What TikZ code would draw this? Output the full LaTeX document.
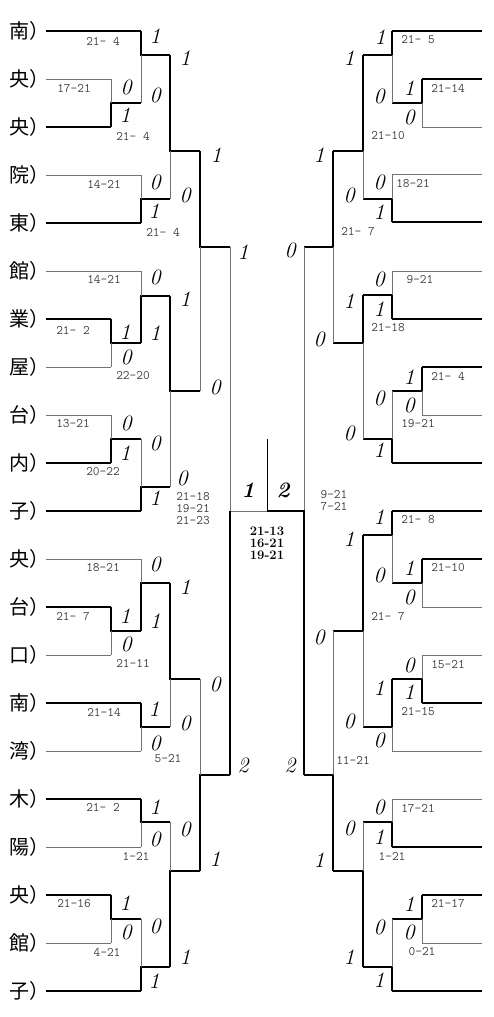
\documentclass[tikz,border=0pt]{standalone}
\usepackage{fontspec}
\newfontfamily\cjk{Noto Sans CJK JP}

\begin{document}
\begin{tikzpicture}[x=1pt, y=-1pt,
  win/.style={line width=1.6pt, black},
  lose/.style={line width=0.9pt, black!55},
  team/.style={font=\cjk\fontsize{20}{20}\selectfont, anchor=west, inner sep=0pt},
  gm/.style={font=\fontsize{22}{22}\selectfont\itshape, inner sep=0pt},
  sc/.style={font=\ttfamily\fontsize{13}{12}\selectfont, text=black!75, inner sep=0pt, align=center},
  fin/.style={font=\fontsize{13}{12}\selectfont\bfseries, inner sep=0pt, align=center}]

  \useasboundingbox (0,0) rectangle (493,1017);

  % teams on the left
  \foreach \y/\t [count=\i] in {31/南,79/央,127/央,175/院,223/東,271/館,319/業,367/屋,415/台,463/内,511/子,
      559/央,607/台,655/口,703/南,751/湾,799/木,847/陽,895/央,943/館,991/子}
    \node[team] (t\i) at (9,\y) {\t）};

  % first lines, left
  \foreach \y/\xe in {31/141,127/111,223/141,319/111,463/111,511/141,607/111,703/141,799/141,895/111,991/141}
    \draw[win] (46,\y) -- (\xe,\y);
  \foreach \y/\xe in {79/111,175/141,271/141,367/111,415/111,559/141,655/111,751/141,847/141,943/111}
    \draw[lose] (46,\y) -- (\xe,\y);

  % first lines, right
  \foreach \y/\xs in {31/392,79/422,222/392,319/392,367/422,463/392,511/392,559/422,703/422,847/392,895/422,991/392}
    \draw[win] (\xs,\y) -- (482,\y);
  \foreach \y/\xs in {127/422,174/392,271/392,415/422,607/422,655/422,751/392,799/392,943/422}
    \draw[lose] (\xs,\y) -- (482,\y);

  % matches: x / top / bottom / out / next x / winner
  \foreach \x/\a/\b/\m/\n/\w in {
      111/79/127/103/141/2, 141/31/103/55/170/1, 141/175/223/199/170/2, 170/55/199/151/200/1,
      111/319/367/343/141/1, 141/271/343/296/170/2, 111/415/463/439/141/2, 141/439/511/487/170/2,
      170/296/487/391/200/1, 200/151/391/247/230/1,
      111/607/655/631/141/1, 141/559/631/583/170/2, 141/703/751/727/170/1, 170/583/727/679/200/1,
      141/799/847/822/170/1, 111/895/943/919/141/1, 141/919/991/967/170/2, 170/822/967/871/200/2,
      200/679/871/775/230/2,
      422/79/127/103/392/1, 392/31/103/55/363/1, 392/174/222/199/363/2, 363/55/199/151/333/1,
      392/271/319/295/363/2, 422/367/415/391/392/1, 392/391/463/439/363/2, 363/295/439/343/333/1,
      333/151/343/247/304/1,
      422/559/607/583/392/1, 392/511/583/535/363/1, 422/655/703/679/392/2, 392/679/751/727/363/1,
      363/535/727/631/333/1, 392/799/847/822/363/2, 422/895/943/919/392/1, 392/919/991/967/363/2,
      363/822/967/871/333/2, 333/631/871/775/304/2} {
    \ifnum\w=1
      \draw[win] (\x,\a) -- (\x,\m) -- (\n,\m);
      \draw[lose] (\x,\m) -- (\x,\b);
    \else
      \draw[win] (\x,\b) -- (\x,\m) -- (\n,\m);
      \draw[lose] (\x,\m) -- (\x,\a);
    \fi
  }

  % final
  \coordinate (fl) at (230,511);
  \coordinate (fm) at (267,511);
  \coordinate (fr) at (304,511);
  \coordinate (ft) at (267,439);
  \draw[lose] (230,247) -- (fl) -- (fm);
  \draw[win] (230,775) -- (fl);
  \draw[lose] (304,247) -- (fr);
  \draw[win] (304,775) -- (fr) -- (fm);
  \draw[line width=1pt] (fm) -- (ft);
  \node[font=\fontsize{22}{22}\selectfont\bfseries\itshape] (cl) at (248,490) {1};
  \node[font=\fontsize{22}{22}\selectfont\bfseries\itshape] (cr) at (283,490) {2};
  \node[fin] (cs) at (267,543) {21-13\\16-21\\19-21};

  % games won
  \foreach \x/\y/\t [count=\i] in {
      155/36/1,185/58/1,126/87/0,155/95/0,125/115/1,216/155/1,155/182/0,185/195/0,154/211/1,243/252/1,
      155/277/0,185/299/1,125/332/1,155/333/1,126/357/0,215/387/0,126/423/0,155/443/0,125/453/1,182/478/0,155/498/1,
      155/564/0,185/587/1,125/616/1,155/621/1,126/644/0,215/684/0,154/709/1,185/723/0,155/743/0,243/765/2,
      155/807/1,185/829/0,155/839/0,215/859/1,125/903/1,155/926/0,126/932/0,185/957/1,154/981/1,
      380/37/1,349/58/1,409/88/1,379/96/0,409/117/0,319/155/1,379/182/0,349/195/0,379/212/1,290/250/0,
      379/279/0,349/301/1,379/309/1,319/339/0,409/377/1,379/398/0,409/405/0,349/433/0,379/450/1,
      379/517/1,349/539/1,409/568/1,379/575/0,409/597/0,319/637/0,409/665/0,379/688/1,409/692/1,349/721/0,379/740/0,290/765/2,
      379/807/0,349/828/0,379/837/1,319/860/1,409/904/1,379/927/0,409/932/0,349/957/1,379/980/1}
    \node[gm] (g\i) at (\x,\y) {\t};

  % game scores
  \foreach \x/\y/\t [count=\i] in {
      103/41/{21- 4},74/89/17-21,133/136/{21- 4},104/184/14-21,163/232/{21- 4},104/279/14-21,73/330/{21- 2},
      133/376/22-20,73/424/13-21,103/472/20-22,103/568/18-21,73/617/{21- 7},133/663/21-11,104/712/21-14,
      168/759/5-21,103/807/{21- 2},136/856/1-21,74/904/21-16,107/952/4-21,
      418/40/{21- 5},448/88/21-14,388/136/21-10,413/184/18-21,358/232/{21- 7},420/280/9-21,388/328/21-18,
      448/376/{21- 4},418/424/19-21,418/520/{21- 8},448/568/21-10,388/617/{21- 7},448/665/15-21,418/712/21-15,
      353/760/11-21,418/808/17-21,392/856/1-21,448/903/21-17,422/952/0-21}
    \node[sc] (s\i) at (\x,\y) {\t};
  \node[sc] (sl) at (193,509) {21-18\\19-21\\21-23};
  \node[sc] (sr) at (334,501) {9-21\\7-21};
\end{tikzpicture}
\end{document}
